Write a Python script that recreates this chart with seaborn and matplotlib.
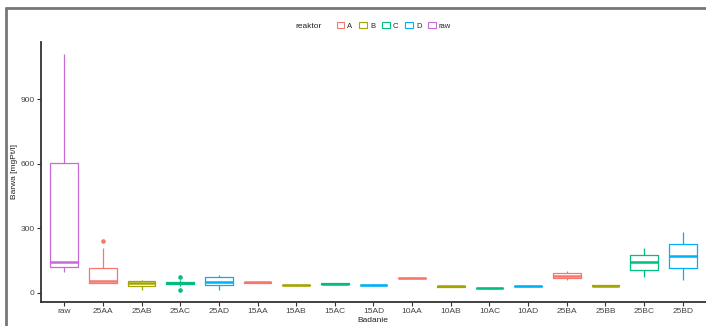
import matplotlib
matplotlib.use("Agg")
import matplotlib.pyplot as plt
from matplotlib.lines import Line2D
from matplotlib.patches import Rectangle
import pandas as pd
import seaborn as sns

# Werte je Probe, Barwa [mgPt/l]
RAW = [97, 119, 144, 605, 1110]
S25AA = [45, 45, 45, 50, 55, 80, 118, 210, 241]
S25AB = [15, 32, 45, 55, 58]
S25AC = [14, 32, 40, 44, 47, 50, 52, 60, 74]
S25AD = [14, 36, 51, 72, 84]
S15AA = [45, 47, 50, 52, 54]
S15AB = [33, 35, 37, 39, 40]
S15AC = [40, 42, 43, 45, 46]
S15AD = [33, 35, 37, 39, 40]
S10AA = [69, 70, 71, 71, 72]
S10AB = [29, 30, 31, 31, 32]
S10AC = [20, 21, 22, 22, 23]
S10AD = [30, 31, 32, 32, 33]
S25BA = [60, 68, 80, 93, 104]
S25BB = [32, 33, 34, 35, 36]
S25BC = [76, 107, 142, 178, 207]
S25BD = [60, 115, 170, 228, 282]

BADANIE = ["raw", "25AA", "25AB", "25AC", "25AD", "15AA", "15AB", "15AC", "15AD",
           "10AA", "10AB", "10AC", "10AD", "25BA", "25BB", "25BC", "25BD"]
REAKTOR = ["raw", "A", "B", "C", "D", "A", "B", "C", "D",
           "A", "B", "C", "D", "A", "B", "C", "D"]
SAMPLES = [RAW, S25AA, S25AB, S25AC, S25AD, S15AA, S15AB, S15AC, S15AD,
           S10AA, S10AB, S10AC, S10AD, S25BA, S25BB, S25BC, S25BD]

REAKTOR_LEVELS = ["A", "B", "C", "D", "raw"]
PALETTE = ["#F8766D", "#A3A500", "#00BF7D", "#00B0F6", "#C86BD8"]

rows = []
for name, reaktor, vals in zip(BADANIE, REAKTOR, SAMPLES):
    for v in vals:
        rows.append({"Badanie": name, "reaktor": reaktor, "Barwa": v})
df = pd.DataFrame(rows)

sns.set_theme(style="white")
plt.rcParams["font.family"] = ["Liberation Sans", "DejaVu Sans"]

W, H = 706, 326
fig = plt.figure(figsize=(W / 100, H / 100), dpi=100)
ax = fig.add_axes([41 / W, 24 / H, 665 / W, 260 / H])

sns.boxplot(
    data=df, x="Badanie", y="Barwa", hue="reaktor",
    order=BADANIE, hue_order=REAKTOR_LEVELS, palette=PALETTE,
    fill=False, dodge=False, width=0.72, linewidth=0.9, fliersize=2.3,
    medianprops={"linewidth": 1.8}, capprops={"linewidth": 0},
    legend=False, ax=ax,
)
for line in ax.lines:
    if line.get_marker() not in ("None", "", None):
        line.set_markerfacecolor(line.get_markeredgecolor())

ax.set_xlim(-0.6, 16.6)
ax.set_ylim(-42, 1166)
ax.set_yticks([0, 300, 600, 900])
for side in ["top", "right"]:
    ax.spines[side].set_visible(False)
for side in ["left", "bottom"]:
    ax.spines[side].set_color("#333333")
    ax.spines[side].set_linewidth(1.3)
ax.tick_params(axis="both", length=3, width=0.8, color="#333333",
               labelsize=6, labelcolor="#444444", pad=1.5, bottom=True, left=True)
ax.set_xlabel("")
ax.set_ylabel("")
fig.text(373 / W, 1 - 321 / H, "Badanie", ha="center", va="center",
         fontsize=6, color="#222222")
fig.text(14 / W, 1 - 172 / H, "Barwa [mgPt/l]", ha="center", va="center",
         rotation=90, fontsize=6, color="#222222")

# Legende oben, horizontal, Titel links
handles = [Rectangle((0, 0), 1, 1, facecolor="white", edgecolor=c, linewidth=0.8)
           for c in PALETTE]
fig.legend(handles, REAKTOR_LEVELS, loc="center", bbox_to_anchor=(394 / W, 1 - 26 / H),
           ncol=5, frameon=False, fontsize=5.5, handlelength=1.0, handleheight=0.9,
           handletextpad=0.4, columnspacing=0.9, borderpad=0)
fig.text(322 / W, 1 - 26 / H, "reaktor", ha="right", va="center", fontsize=6, color="#222222")

# grauer Rahmen (links und oben)
fig.add_artist(Line2D([6 / W, 6 / W], [0, 1 - 8 / H], transform=fig.transFigure,
                      color="#777777", lw=2))
fig.add_artist(Line2D([6 / W, 1], [1 - 8 / H, 1 - 8 / H], transform=fig.transFigure,
                      color="#777777", lw=2))

fig.savefig("out.png", dpi=100)
